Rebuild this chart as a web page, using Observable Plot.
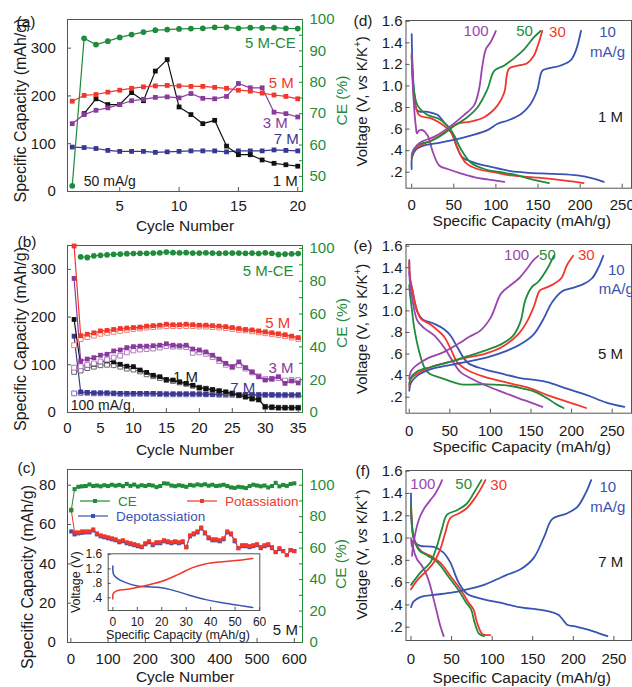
<!DOCTYPE html>
<html>
<head>
<meta charset="utf-8">
<script src="https://cdn.jsdelivr.net/npm/d3@7"></script>
<script src="https://cdn.jsdelivr.net/npm/@observablehq/plot@0.6"></script>
<style>
  html, body { margin: 0; padding: 0; background: #fff; }
  #fig { position: relative; width: 632px; height: 687px; overflow: hidden; background: #fff; }
  #fig svg { position: absolute; overflow: visible; }
</style>
</head>
<body>
<div id="fig"></div>
<script>
// ---------- (a) 50 mA/g, cycles 1-20 ----------
const aCE5M  = [47, 94.0, 92.0, 93.1, 94.3, 95.2, 96.0, 96.6, 96.8, 97.0, 97.1, 97.2, 97.5, 97.5, 97.2, 97.4, 97.3, 97.4, 97.2, 97.1];
const aCap5M = [189, 201, 203, 208, 212, 216, 219, 221, 222, 221, 220, 220, 218, 216, 212, 210, 206, 202, 199, 194];
const aCap3M = [142, 161, 170, 175, 182, 190, 193, 197, 198, 196, 205, 195, 194, 199, 226, 217, 217, 166, 163, 156];
const aCap1M = [null, 163, 194, 182, 182, 207, 190, 252, 276, 177, 161, 142, 149, 95, 77, 77, 66, 59, 56, 53];
const aCap7M = [93, 92, 90, 86, 84, 84, 84, 82, 83, 84, 85, 85, 85, 83, 85, 85, 85, 87, 86, 85];

// ---------- (b) 100 mA/g, cycles 1-35 (filled = potassiation, open = depotassiation) ----------
const bCE5M = [null, 94.9, 94.5, 95.5, 95.8, 96.1, 96.4, 96.6, 96.8, 96.9, 97.0, 97.0, 97.2, 97.3, 97.8, 97.4, 97.3, 97.4, 97.2, 97.2, 97.3, 97.2, 97.0, 97.1, 97.2, 97.1, 97.0, 97.1, 96.9, 97.3, 97.0, 96.3, 96.6, 96.7, 96.9];
const bCap5M     = [349,161,164,167,171,172,174,176,177,178,179,181,182,183,185,184,184,185,184,183,183,182,181,180,178,176,174,173,171,169,167,165,163,160,157];
const bCap5MOpen = [141,154,158,161,165,167,169,171,173,175,176,178,179,180,181,181,181,181,181,180,180,179,178,177,175,173,172,170,168,166,164,162,160,157,154];
const bCap3M     = [281,108,112,115,120,122,129,131,136,138,139,139,140,141,144,141,140,141,133,131,127,120,112,103,96,106,94,85,75,68,71,75,61,66,62];
const bCap3MOpen = [94,97,100,103,107,111,115,119,126,130,132,133,134,136,139,138,138,137,125,126,123,116,108,100,95,99,92,84,76,70,70,72,67,68,68];
const bCap1M     = [195,98,99,101,106,108,106,101,97,96,89,84,78,75,69,68,64,61,57,52,50,48,45,43,40,36,33,29,27,12,11,10,10,10,10];
const bCap1MOpen = [85,88,93,96,99,100,99,96,92,90,86,80,76,72,68,66,63,60,56,52,50,47,45,42,40,36,33,29,27,12,11,10,10,10,10];
const bCap7M     = [160,43,42,41,41,41,40,40,40,40,40,40,40,39,39,39,39,39,39,39,38,38,38,38,38,38,38,37,37,37,37,37,37,37,37];
const bCap7MOpen = [40,41,41,40,40,40,40,39,39,39,39,39,39,39,38,38,38,38,38,38,38,38,37,37,37,37,37,37,37,37,37,36,36,36,36];

// ---------- (c) 5 M long cycling ----------
const cCycles = [1,10,20,30,40,50,60,70,80,90,100,110,120,130,140,150,160,170,180,190,200,210,220,230,240,250,260,270,280,290,300,310,320,330,340,350,360,370,380,390,400,410,420,430,440,450,460,470,480,490,500,510,520,530,540,550,560,570,580,590,600];
const cPotass = [67.5,56,56,56.5,56.5,56.5,57.5,55.5,54.5,54,53.5,53,52.5,51.5,52,51,50.5,50,49.5,48.8,50.5,51.5,50,51,51,52,51.5,51,51.5,51,51.5,48.5,54.5,55.5,56.5,58.5,56,53.5,52.5,52.5,52,53,56.5,55.5,52,48,49.5,49.5,49,49.5,50,48.5,49.5,50,48.5,46,48,46.5,44.5,47,46.5];
const cDepot  = [56.5,55,55.5,55.8,56,56,57,55,54,53.5,53,52.5,52,51,51.5,50.5,50,49.5,49,48.5,50,51,49.5,50.5,50.5,51.5,51,50.5,51,50.5,51,48.5,54,55,56,58,55.5,53,52,52,51.5,52.5,56,55,51.5,48,49,49,48.5,49,49.5,48,49,49.5,48,46,47.5,46.5,44.5,47,46.5];
const cCE     = [84,97.5,99,99.3,99.5,100.5,99.5,99.8,99.3,100,99.5,100.3,99.7,100.2,99.4,100.8,99.6,100.4,99.2,100,99.5,100.2,99.8,98.8,99.5,101.2,101,99.8,99.4,100,99.6,99,100.2,99.8,100.5,100,100.6,99.7,100.3,99.5,99.8,100.3,99.5,98.6,98.3,99,98.7,98.2,99.5,100.3,99.8,99.3,99.8,98.6,99.5,101.5,99.3,100.2,99.6,100.8,101.2];
// inset voltage profile [capacity, voltage]
const cInsetCharge    = [[0,0.37],[0.1,0.51],[1.1,0.58],[6,0.64],[12.9,0.73],[19.8,0.85],[26.8,1.05],[32.3,1.23],[37.8,1.34],[44.7,1.40],[51.7,1.44],[57.2,1.49]];
const cInsetDischarge = [[0,1.28],[0.3,1.05],[1.8,0.94],[5.3,0.82],[10,0.73],[18.4,0.69],[24,0.62],[31,0.48],[38,0.35],[44.7,0.26],[51.7,0.19],[57.2,0.13]];

// ---------- (d) 1 M voltage profiles [capacity, voltage] ----------
const d10c  = [[0,0.23],[0.5,0.34],[5,0.41],[15,0.45],[31,0.47],[50,0.50],[70,0.54],[90,0.59],[102,0.65],[114,0.68],[130,0.74],[141,0.83],[149,0.96],[155,1.14],[161,1.16],[177,1.19],[189,1.24],[195,1.33],[201,1.51]];
const d10d  = [[0,1.48],[1,1.19],[3,0.94],[7,0.77],[19,0.76],[31,0.73],[38.6,0.66],[46.5,0.59],[52.5,0.46],[60,0.34],[74,0.29],[94,0.25],[117.6,0.21],[140,0.195],[169,0.185],[197,0.17],[216,0.14],[228,0.11]];
const d30c  = [[0,0.33],[2,0.40],[11,0.45],[27,0.51],[42.6,0.59],[54.5,0.65],[70,0.67],[86,0.71],[102,0.82],[110,0.94],[115.6,1.16],[127.5,1.19],[137,1.21],[145,1.28],[150,1.38],[155,1.51]];
const d30d  = [[0,1.28],[1,1.15],[3,0.88],[9,0.73],[23,0.70],[35,0.65],[46.5,0.57],[54.5,0.42],[64,0.29],[78,0.23],[98,0.20],[118,0.17],[150,0.15],[180,0.125],[204,0.10]];
const d50c  = [[0,0.34],[7,0.45],[23,0.49],[38.6,0.56],[50.5,0.63],[66,0.71],[78,0.80],[90,0.97],[98,1.14],[110,1.19],[123.6,1.27],[133.5,1.34],[145,1.45],[153,1.51]];
const d50d  = [[0,1.28],[1,1.10],[3,0.94],[7,0.82],[19,0.73],[31,0.70],[42.6,0.63],[50.5,0.54],[58,0.42],[70,0.29],[86,0.23],[106,0.20],[126,0.17],[145,0.13],[163,0.10]];
const d100c = [[0,0.36],[3,0.42],[11,0.48],[27,0.53],[46.5,0.63],[62,0.73],[74,0.82],[80,0.97],[84,1.19],[88,1.34],[94,1.41],[100,1.51]];
const d100d = [[0,1.30],[1,1.05],[3,0.79],[5,0.62],[6.3,0.56],[9,0.59],[13,0.59],[19,0.54],[25,0.39],[33,0.26],[42.6,0.23],[58,0.19],[74,0.155],[90,0.133],[110,0.11]];

// ---------- (e) 5 M voltage profiles ----------
const e10c  = [[0,0.26],[2,0.33],[10,0.40],[26.7,0.46],[51,0.50],[72,0.53],[96,0.57],[120,0.63],[137,0.69],[153,0.78],[165,0.92],[176,1.08],[188,1.18],[200,1.21],[215,1.25],[225,1.30],[233,1.40],[239,1.51]];
const e10d  = [[0,1.47],[1,1.30],[4,1.19],[10,0.99],[16.5,0.92],[31,0.88],[43,0.83],[51,0.77],[59.5,0.66],[72,0.52],[92,0.46],[113,0.42],[135,0.38],[155,0.36],[170,0.34],[194,0.28],[219,0.22],[243,0.15],[265,0.11]];
const e30c  = [[0,0.29],[2,0.37],[10,0.42],[27,0.48],[51,0.53],[72,0.57],[92,0.60],[113,0.66],[135,0.79],[145,0.90],[154,1.05],[161,1.19],[170,1.22],[178,1.25],[188,1.31],[194,1.42],[202,1.51]];
const e30d  = [[0,1.45],[1,1.30],[4,1.19],[8,1.05],[14,0.93],[27,0.87],[35,0.82],[43,0.76],[51,0.65],[59.5,0.52],[72,0.45],[92,0.39],[113,0.35],[135,0.31],[150,0.28],[170,0.22],[194,0.16],[218,0.10]];
const e50c  = [[0,0.32],[2,0.38],[10,0.44],[27,0.48],[51,0.53],[72,0.58],[92,0.63],[113,0.69],[128,0.77],[137,0.90],[143,1.10],[151,1.22],[159,1.27],[170,1.39],[178,1.51]];
const e50d  = [[0,1.24],[1,1.15],[3,1.03],[6,0.85],[12,0.63],[18.4,0.48],[24.6,0.42],[39,0.38],[63.5,0.32],[92,0.32],[120,0.31],[140,0.28],[155,0.25],[170,0.19],[180,0.14],[190,0.10]];
const e100c = [[0,0.37],[2,0.44],[8,0.49],[22.6,0.56],[43,0.62],[61.5,0.70],[74,0.76],[88,0.82],[100.5,0.94],[113,1.16],[125,1.24],[135,1.30],[146,1.40],[153,1.47],[159,1.51]];
const e100d = [[0,1.36],[1,1.25],[4,1.10],[10,0.91],[18.4,0.84],[31,0.77],[43,0.66],[53,0.54],[63.5,0.43],[80,0.36],[100.5,0.29],[121,0.23],[135,0.19],[150,0.15],[164,0.11]];

// ---------- (f) 7 M voltage profiles ----------
const f10c  = [[0,0.38],[3,0.43],[11.5,0.47],[28,0.49],[50,0.51],[69,0.54],[90,0.58],[106,0.63],[118,0.67],[135,0.72],[151,0.82],[164,1.01],[174,1.17],[192,1.22],[205,1.28],[215,1.40],[222,1.52]];
const f10d  = [[0,1.40],[1,1.11],[5.3,0.96],[11.5,0.93],[28,0.92],[40,0.87],[48.5,0.78],[58.7,0.60],[69,0.50],[89.6,0.45],[110,0.42],[133,0.38],[160,0.355],[176,0.33],[182,0.31],[188,0.26],[193,0.22],[201,0.21],[217,0.18],[230,0.15],[242,0.12]];
const f30c  = [[0,0.54],[7.4,0.62],[19.7,0.71],[28,0.78],[36,0.90],[42.3,1.05],[48.5,1.18],[58.7,1.22],[69,1.27],[77,1.34],[85,1.43],[91.6,1.52]];
const f30d  = [[0,1.30],[1,1.15],[3,1.01],[11.5,0.89],[23.8,0.84],[36,0.78],[48.5,0.66],[60.8,0.54],[71,0.42],[77,0.36],[81.4,0.24],[87.6,0.14],[92,0.13],[97.8,0.13]];
const f50c  = [[0,0.58],[11.5,0.69],[23.8,0.78],[32,0.93],[38,1.08],[44.4,1.21],[56.7,1.25],[69,1.31],[77,1.40],[86.7,1.52]];
const f50d  = [[0,1.30],[1,1.15],[3,1.01],[10,0.89],[21,0.84],[33,0.78],[45.5,0.66],[57.8,0.54],[68,0.42],[74,0.36],[78.4,0.24],[84,0.14],[90,0.12]];
const f100c = [[1.2,0.84],[3.2,0.96],[7.4,1.11],[11.5,1.20],[17.6,1.28],[23.8,1.34],[30,1.40],[35.3,1.47],[38.2,1.52]];
const f100d = [[0,1.0],[1,0.92],[2,0.98],[3,0.90],[7.4,0.81],[13.6,0.75],[19.7,0.66],[23.8,0.57],[27.9,0.45],[32,0.33],[36.1,0.21],[40.2,0.12]];

// ---------- tick values ----------
const capTicksA = [0, 100, 200, 300];
const cycleTicksA = [5, 10, 15, 20];
const ceTicksA = [50, 55, 60, 65, 70, 75, 80, 85, 90, 95, 100];
const cycleTicksB = [0, 5, 10, 15, 20, 25, 30, 35];
const ceTicksBC = [0, 10, 20, 30, 40, 50, 60, 70, 80, 90, 100];
const cycleTicksC = [0, 100, 200, 300, 400, 500, 600];
const capTicksC = [0, 20, 40, 60, 80];
const voltTicks = [0.2, 0.4, 0.6, 0.8, 1.0, 1.2, 1.4, 1.6];
const specCapTicks = [0, 50, 100, 150, 200, 250];
const insetCapTicks = [0, 10, 20, 30, 40, 50, 60];
const insetVoltTicks = [0.4, 0.8, 1.2, 1.6];

// ---------- styling ----------
const FONT = '"Liberation Sans", Arial, Helvetica, sans-serif';
const GREEN = "#1f8b3b", RED = "#f1372b", PURPLE = "#8a3a9c", NAVY = "#39378f";
const BLUE = "#3953b3", VIOLET = "#9a45ae", INK = "#1a1a1a", FRAME = "#555";
const FS = 15;
const VLABEL = "Voltage (V, vs K/K+)";

const fig = document.getElementById("fig");
function mount(svg, left, top) {
  svg.style.left = left + "px";
  svg.style.top = top + "px";
  fig.appendChild(svg);
  return svg;
}
function makePlot(o) {
  return Plot.plot({
    width: o.width, height: o.height,
    marginTop: o.mt, marginRight: o.mr, marginBottom: o.mb, marginLeft: o.ml,
    x: Object.assign({domain: o.x}, o.xAxisNull ? {axis: null} : {}),
    y: {domain: o.y},
    style: {background: "transparent", overflow: "visible", fontFamily: FONT, fontSize: FS + "px", color: INK},
    marks: o.marks
  });
}
const voltFmt = d => (d < 1 ? d3.format(".1f")(d).replace(/^0/, "") : d3.format(".1f")(d));
const seq = vals => vals.map((v, i) => ({c: i + 1, v}));
const pairs = (xs, ys) => xs.map((c, i) => ({c, v: ys[i]}));

function series(rows, color, {r = 2.7, open = false, sw = 1.2, symbol = "square", lineColor} = {}) {
  return [
    Plot.line(rows, {x: "c", y: "v", stroke: lineColor || color, strokeWidth: sw}),
    Plot.dot(rows, {x: "c", y: "v", symbol, r, fill: open ? "white" : color, stroke: open ? color : "none", strokeWidth: 1})
  ];
}
function curve(pts, color, sw = 1.8) {
  return Plot.line(pts, {x: d => d[0], y: d => d[1], stroke: color, strokeWidth: sw, curve: "catmull-rom"});
}
function note(text, x, y, fill = INK, anchor = "middle", size = FS) {
  return Plot.text([text], {x, y, fill, textAnchor: anchor, fontSize: size});
}
// text placed relative to the frame; centred on its anchor unless told otherwise
function frameText(text, opts) {
  return Plot.text([text], Object.assign({fontSize: FS, fill: INK, textAnchor: "middle", lineAnchor: "middle"}, opts));
}

// left column geometry
const L = {width: 360, ml: 67, mr: 58};
// right column geometry
const R = {width: 312, ml: 85.5, mr: 1};

// ================= (a) =================
mount(makePlot({
  ...L, height: 225, mt: 19, mb: 34, x: [0.6, 20.4], y: [0, 360],
  marks: [
    Plot.frame({stroke: FRAME}),
    Plot.axisX(cycleTicksA, {tickSize: -4, tickPadding: 12.6, label: null, fontSize: FS, stroke: FRAME}),
    Plot.axisY(capTicksA, {tickSize: -4, tickPadding: 15.7, label: null, fontSize: FS, stroke: FRAME}),
    ...series(seq(aCap7M), NAVY),
    ...series(seq(aCap1M), "#111"),
    ...series(seq(aCap3M), PURPLE),
    ...series(seq(aCap5M), RED),
    note("5 M", 19.66, 226, RED, "end"),
    note("3 M", 19.16, 143, PURPLE, "end"),
    note("7 M", 20.09, 110, NAVY, "end"),
    note("1 M", 20.0, 21, INK, "end"),
    note("50 mA/g", 1.97, 21, INK, "start", 14),
    frameText("Cycle Number", {frameAnchor: "bottom", dy: 35, fontSize: 15.5}),
    frameText("Specific Capacity (mAh/g)", {frameAnchor: "left", dx: -47, dy: 5, rotate: -90, fontSize: 16}),
    frameText("(a)", {frameAnchor: "top-left", dx: -51, dy: 3, textAnchor: "start", fontSize: 15.5})
  ]
}), 0, 0);
mount(makePlot({
  ...L, height: 225, mt: 19, mb: 34, x: [0.6, 20.4], y: [45.2, 100], xAxisNull: true,
  marks: [
    Plot.ruleX([20.4], {stroke: GREEN}),
    Plot.axisY(ceTicksA, {anchor: "right", tickSize: -4, tickPadding: 11, label: null, fontSize: FS,
      color: GREEN, tickFormat: d => (d % 10 === 0 ? d : "")}),
    ...series(seq(aCE5M), GREEN, {symbol: "circle", r: 2.9}),
    note("5 M-CE", 19.83, 92.4, GREEN, "end"),
    frameText("CE (%)", {frameAnchor: "right", dx: 40, dy: -5, rotate: -90, fill: GREEN, fontSize: 15.5})
  ]
}), 0, 0);

// ================= (b) =================
mount(makePlot({
  ...L, height: 225, mt: 20, mb: 38, x: [0, 35.65], y: [0, 350],
  marks: [
    Plot.frame({stroke: FRAME}),
    Plot.axisX(cycleTicksB, {tickSize: -4, tickPadding: 13.6, label: null, fontSize: FS, stroke: FRAME}),
    Plot.axisY(capTicksA, {tickSize: -4, tickPadding: 15.7, label: null, fontSize: FS, stroke: FRAME}),
    ...series(seq(bCap7MOpen), "#7775b8", {open: true, sw: 0.8}),
    ...series(seq(bCap7M), NAVY),
    ...series(seq(bCap1MOpen), "#666", {open: true, sw: 0.8}),
    ...series(seq(bCap1M), "#111"),
    ...series(seq(bCap3MOpen), "#b07cc0", {open: true, sw: 0.8}),
    ...series(seq(bCap3M), PURPLE),
    ...series(seq(bCap5MOpen), "#f07c72", {open: true, sw: 0.8}),
    ...series(seq(bCap5M), RED),
    note("5 M", 33.8, 186.6, RED, "end"),
    note("3 M", 34.3, 92, PURPLE, "end"),
    note("1 M", 17.9, 73, INK),
    note("7 M", 26.6, 52, NAVY),
    note("100 mA/g", 0.5, 14.7, INK, "start", 14),
    frameText("Cycle Number", {frameAnchor: "bottom", dy: 38, fontSize: 15.5}),
    frameText("Specific Capacity (mAh/g)", {frameAnchor: "left", dx: -47, dy: 10, rotate: -90, fontSize: 16}),
    frameText("(b)", {frameAnchor: "top-left", dx: -50, dy: -3.3, textAnchor: "start", fontSize: 15.5})
  ]
}), 0, 225);
mount(makePlot({
  ...L, height: 225, mt: 20, mb: 38, x: [0, 35.65], y: [0, 101.8], xAxisNull: true,
  marks: [
    Plot.ruleX([35.65], {stroke: GREEN}),
    Plot.axisY(ceTicksBC, {anchor: "right", tickSize: -4, tickPadding: 11, label: null, fontSize: FS,
      color: GREEN, tickFormat: d => (d % 20 === 0 ? d : "")}),
    ...series(seq(bCE5M), GREEN, {symbol: "circle", r: 2.9, sw: 1}),
    note("5 M-CE", 34.3, 86, GREEN, "end"),
    frameText("CE (%)", {frameAnchor: "right", dx: 40, dy: -6, rotate: -90, fill: GREEN, fontSize: 15.5})
  ]
}), 0, 225);

// ================= (c) =================
mount(makePlot({
  ...L, height: 237, mt: 19, mb: 45, x: [-9, 622], y: [0, 88],
  marks: [
    Plot.frame({stroke: FRAME}),
    Plot.axisX(cycleTicksC, {tickSize: -4, tickPadding: 15.3, label: null, fontSize: FS, stroke: FRAME}),
    Plot.axisY(capTicksC, {tickSize: -4, tickPadding: 15.7, label: null, fontSize: FS, stroke: FRAME}),
    ...series(pairs(cCycles, cDepot), BLUE, {r: 2.3, sw: 1}),
    ...series(pairs(cCycles, cPotass), RED, {r: 2.3, sw: 1}),
    note("5 M", 609.6, 6.3, INK, "end"),
    frameText("Cycle Number", {frameAnchor: "bottom", dy: 35, fontSize: 15.5}),
    frameText("Specific Capacity (mAh/g)", {frameAnchor: "left", dx: -40, dy: 21, rotate: -90, fontSize: 16}),
    frameText("(c)", {frameAnchor: "top-left", dx: -50, dy: -1, textAnchor: "start", fontSize: 15.5})
  ]
}), 0, 450);
mount(makePlot({
  ...L, height: 237, mt: 19, mb: 45, x: [-9, 622], y: [0, 110], xAxisNull: true,
  marks: [
    Plot.ruleX([622], {stroke: GREEN}),
    Plot.axisY(ceTicksBC, {anchor: "right", tickSize: -4, tickPadding: 11, label: null, fontSize: FS,
      color: GREEN, tickFormat: d => (d % 20 === 0 ? d : "")}),
    ...series(pairs(cCycles, cCE), GREEN, {r: 2.3, sw: 1}),
    frameText("CE (%)", {frameAnchor: "right", dx: 39, dy: 8, rotate: -90, fill: GREEN, fontSize: 15.5})
  ]
}), 0, 450);

// legend for (c)
(function legend() {
  const svg = d3.select(fig).append("svg")
    .attr("width", 360).attr("height", 237)
    .style("left", "0px").style("top", "450px")
    .attr("font-family", FONT).attr("font-size", 13.5);
  const items = [
    {label: "CE", color: GREEN, x: 80, y: 51},
    {label: "Potassiation", color: RED, x: 187, y: 51},
    {label: "Depotassiation", color: BLUE, x: 78, y: 66}
  ];
  const g = svg.selectAll("g").data(items).join("g").attr("transform", d => `translate(${d.x},${d.y})`);
  g.append("line").attr("x1", 0).attr("x2", 30).attr("stroke", d => d.color).attr("stroke-width", 1.2);
  g.append("rect").attr("x", 13).attr("y", -2).attr("width", 4).attr("height", 4).attr("fill", d => d.color);
  g.append("text").attr("x", 38).attr("dy", "0.35em").attr("fill", d => d.color).text(d => d.label);
})();

// inset of (c)
mount(Plot.plot({
  width: 210, height: 105, marginLeft: 47.7, marginRight: 10.7, marginTop: 13.3, marginBottom: 35,
  x: {domain: [-1.9, 60.1]}, y: {domain: [0.048, 1.62]},
  style: {background: "transparent", overflow: "visible", fontFamily: FONT, fontSize: "12px", color: INK},
  marks: [
    Plot.frame({fill: "white", stroke: FRAME}),
    Plot.axisX(insetCapTicks, {tickSize: -3, tickPadding: 10, label: null, fontSize: 12, stroke: FRAME}),
    Plot.axisY(insetVoltTicks, {tickSize: -3, tickPadding: 9, label: null, fontSize: 12, stroke: FRAME, tickFormat: voltFmt}),
    curve(cInsetDischarge, BLUE, 1.5),
    curve(cInsetCharge, RED, 1.5),
    frameText("Specific Capacity (mAh/g)", {frameAnchor: "bottom", dx: -6, dy: 24.5, fontSize: 12.5}),
    frameText("Voltage (V)", {frameAnchor: "left", dx: -32.7, dy: 0, rotate: -90, fontSize: 12.5})
  ]
}), 60, 540);

// ================= (d), (e), (f) =================
function profilePanel({top, height, mt, mb, x, y, tickPad, titleDy, vDy, letter, letterDy, letterDx, curves, notes}) {
  return mount(makePlot({
    ...R, height, mt, mb, x, y,
    marks: [
      Plot.frame({stroke: FRAME}),
      Plot.axisX(specCapTicks, {tickSize: -4, tickPadding: tickPad, label: null, fontSize: FS, stroke: FRAME}),
      Plot.axisY(voltTicks, {tickSize: -4, tickPadding: 7.5, label: null, fontSize: FS, stroke: FRAME, tickFormat: voltFmt}),
      ...curves,
      ...notes,
      frameText("Specific Capacity (mAh/g)", {frameAnchor: "bottom", dx: 3, dy: titleDy, fontSize: 15.5}),
      frameText(VLABEL, {frameAnchor: "left", dx: -44, dy: vDy, rotate: -90, fontSize: 15}),
      frameText(letter, {frameAnchor: "top-left", dx: letterDx, dy: letterDy, textAnchor: "start", fontSize: 15.5})
    ]
  }), 320, top);
}

profilePanel({
  top: 0, height: 225, mt: 20, mb: 37.3, x: [-6.75, 261], y: [0.052, 1.607],
  tickPad: 14.9, titleDy: 33, vDy: -3, letter: "(d)", letterDx: -52.5, letterDy: 0.7,
  curves: [curve(d10d, BLUE), curve(d30d, RED), curve(d50d, GREEN), curve(d100d, VIOLET),
           curve(d10c, BLUE), curve(d30c, RED), curve(d50c, GREEN), curve(d100c, VIOLET)],
  notes: [note("100", 76.5, 1.507, VIOLET), note("50", 134, 1.507, GREEN), note("30", 173, 1.498, RED),
          note("10", 232.5, 1.498, BLUE), note("mA/g", 232.5, 1.313, BLUE), note("1 M", 236, 0.71)]
});
profilePanel({
  top: 225, height: 225, mt: 19, mb: 37.3, x: [-4, 273.8], y: [0.052, 1.615],
  tickPad: 15.9, titleDy: 34, vDy: 0, letter: "(e)", letterDx: -52.5, letterDy: 1.7,
  curves: [curve(e10d, BLUE), curve(e30d, RED), curve(e50d, GREEN), curve(e100d, VIOLET),
           curve(e10c, BLUE), curve(e30c, RED), curve(e50c, GREEN), curve(e100c, VIOLET)],
  notes: [note("100", 132.2, 1.52, VIOLET), note("50", 170.2, 1.52, GREEN), note("30", 218.2, 1.514, RED),
          note("10", 244.7, 1.375, BLUE, "start"), note("mA/g", 233.6, 1.205, BLUE, "start"), note("5 M", 248, 0.60)]
});
profilePanel({
  top: 450, height: 237, mt: 20, mb: 47, x: [-6.2, 271.7], y: [0.081, 1.606],
  tickPad: 16.9, titleDy: 38, vDy: -1, letter: "(f)", letterDx: -50.5, letterDy: 0.7,
  curves: [curve(f10d, BLUE), curve(f30d, RED), curve(f50d, GREEN), curve(f100d, VIOLET),
           curve(f10c, BLUE), curve(f30c, RED), curve(f50c, GREEN), curve(f100c, VIOLET)],
  notes: [note("100", 14.6, 1.487, VIOLET), note("50", 64.9, 1.487, GREEN), note("30", 108, 1.472, RED),
          note("10", 242.4, 1.456, BLUE), note("mA/g", 242.4, 1.277, BLUE), note("7 M", 246, 0.783)]
});

// italic "vs" and superscript "+" in the voltage axis titles
d3.select(fig).selectAll("text").filter(function () { return this.textContent === VLABEL; }).each(function () {
  const t = d3.select(this).text(null);
  t.append("tspan").text("Voltage (V, ");
  t.append("tspan").attr("font-style", "italic").text("vs");
  t.append("tspan").text(" K/K");
  t.append("tspan").attr("font-size", 10).attr("dy", -6).text("+");
  t.append("tspan").attr("dy", 6).text(")");
});
</script>
</body>
</html>
